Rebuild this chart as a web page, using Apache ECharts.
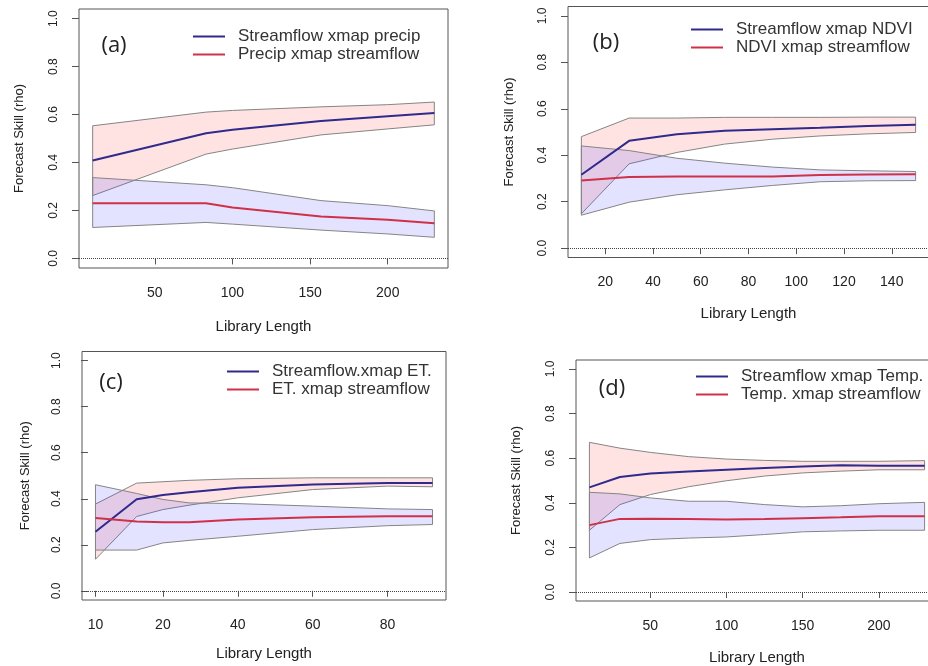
<!DOCTYPE html>
<html lang="en">
<head>
    <meta charset="utf-8" />
    <style>
        html, body { margin: 0; padding: 0; background: #fff; overflow: hidden; }
        .box { width: 928px; height: 666px; }
    </style>
</head>
<body>
    <div class="box"></div>
    <script src="https://cdn.jsdelivr.net/npm/echarts@6/dist/echarts.min.js"></script>
    <script>
// panel (a) Streamflow / precip
var aX      = [10, 83, 100, 157, 200, 230];
var aBlue   = [0.408, 0.522, 0.536, 0.573, 0.593, 0.606];
var aBlueHi = [0.553, 0.610, 0.617, 0.632, 0.641, 0.652];
var aBlueLo = [0.262, 0.435, 0.456, 0.515, 0.540, 0.557];
var aRed    = [0.230, 0.230, 0.212, 0.175, 0.161, 0.147];
var aRedHi  = [0.337, 0.307, 0.295, 0.241, 0.220, 0.198];
var aRedLo  = [0.129, 0.150, 0.143, 0.118, 0.102, 0.088];

// panel (b) Streamflow / NDVI
var bX      = [10, 30, 50, 70, 90, 110, 130, 150];
var bBlue   = [0.316, 0.462, 0.490, 0.505, 0.512, 0.518, 0.526, 0.531];
var bBlueHi = [0.480, 0.560, 0.560, 0.563, 0.563, 0.563, 0.564, 0.564];
var bBlueLo = [0.148, 0.363, 0.412, 0.448, 0.469, 0.483, 0.492, 0.498];
var bRed    = [0.291, 0.306, 0.308, 0.308, 0.309, 0.315, 0.317, 0.318];
var bRedHi  = [0.440, 0.420, 0.387, 0.366, 0.349, 0.337, 0.333, 0.330];
var bRedLo  = [0.142, 0.198, 0.230, 0.251, 0.270, 0.286, 0.290, 0.291];

// panel (c) Streamflow / ET
var cX      = [2, 13, 20, 27, 40, 60, 80, 92];
var cBlue   = [0.257, 0.398, 0.416, 0.428, 0.448, 0.462, 0.469, 0.469];
var cBlueHi = [0.377, 0.468, 0.474, 0.480, 0.487, 0.491, 0.491, 0.491];
var cBlueLo = [0.137, 0.323, 0.353, 0.372, 0.404, 0.440, 0.455, 0.452];
var cRed    = [0.316, 0.301, 0.298, 0.298, 0.310, 0.320, 0.324, 0.324];
var cRedHi  = [0.461, 0.423, 0.397, 0.382, 0.379, 0.368, 0.356, 0.353];
var cRedLo  = [0.177, 0.177, 0.208, 0.219, 0.237, 0.266, 0.283, 0.288];

// panel (d) Streamflow / Temp
var dX      = [10, 30, 50, 75, 100, 125, 150, 175, 200, 230];
var dBlue   = [0.469, 0.516, 0.531, 0.540, 0.548, 0.556, 0.563, 0.568, 0.566, 0.566];
var dBlueHi = [0.671, 0.645, 0.626, 0.607, 0.596, 0.590, 0.586, 0.586, 0.586, 0.589];
var dBlueLo = [0.277, 0.392, 0.437, 0.472, 0.499, 0.520, 0.534, 0.542, 0.548, 0.548];
var dRed    = [0.300, 0.328, 0.329, 0.328, 0.325, 0.327, 0.331, 0.335, 0.340, 0.340];
var dRedHi  = [0.447, 0.440, 0.422, 0.407, 0.407, 0.392, 0.382, 0.387, 0.396, 0.402];
var dRedLo  = [0.153, 0.218, 0.235, 0.242, 0.247, 0.258, 0.270, 0.274, 0.277, 0.277];

// names + tick labels
var panelTags = ['(a)', '(b)', '(c)', '(d)'];
var blueNames = ['Streamflow xmap precip', 'Streamflow xmap NDVI', 'Streamflow.xmap ET.', 'Streamflow xmap Temp.'];
var redNames  = ['Precip xmap streamflow', 'NDVI xmap streamflow', 'ET. xmap streamflow', 'Temp. xmap streamflow'];
var yTicks  = [0, 0.2, 0.4, 0.6, 0.8, 1.0];
var aTicks  = [50, 100, 150, 200];
var bTicks  = [20, 40, 60, 80, 100, 120, 140];
var cTicks  = [2, 20, 40, 60, 80];
var cTickLabels = ['10', '20', '40', '60', '80'];
var dTicks  = [50, 100, 150, 200];

(function(){
    var myChart = echarts.init(document.querySelector('.box'));

    var FONT = 'Liberation Sans';
    var BLUE = '#2f2a8c';
    var RED = '#cf3148';

    // layout of the 4 boxes (px)
    var grids = [
        {left: 79,  top: 9,     width: 369, height: 259},
        {left: 568, top: 6.5,   width: 361, height: 251},
        {left: 82,  top: 351.5, width: 364, height: 248.5},
        {left: 576, top: 360,   width: 362, height: 241}
    ];
    var xRange = [[1.2, 238.8], [4.4, 155.6], [-1.6, 95.6], [1.2, 238.8]];
    var xTickSets = [aTicks, bTicks, cTicks, dTicks];
    var nameGapX = [51, 49, 46, 49];
    var nameGapY = [53, 52, 50, 53];

    var panels = [
        {x: aX, b: aBlue, bh: aBlueHi, bl: aBlueLo, r: aRed, rh: aRedHi, rl: aRedLo},
        {x: bX, b: bBlue, bh: bBlueHi, bl: bBlueLo, r: bRed, rh: bRedHi, rl: bRedLo},
        {x: cX, b: cBlue, bh: cBlueHi, bl: cBlueLo, r: cRed, rh: cRedHi, rl: cRedLo},
        {x: dX, b: dBlue, bh: dBlueHi, bl: dBlueLo, r: dRed, rh: dRedHi, rl: dRedLo}
    ];

    function zip(xs, ys) {
        return xs.map(function(x, i){ return [x, ys[i]]; });
    }

    // confidence band drawn as one polygon (R style), through the axes
    function band(gi, xs, lo, hi, fill) {
        return {
            type: 'custom',
            xAxisIndex: gi, yAxisIndex: gi,
            silent: true,
            z: 1,
            data: xs.map(function(x, i){ return [x, lo[i], hi[i]]; }),
            renderItem: function(params, api) {
                if (params.dataIndex !== 0) return;
                var pts = [];
                for (var i = 0; i < xs.length; i++) pts.push(api.coord([xs[i], hi[i]]));
                for (var j = xs.length - 1; j >= 0; j--) pts.push(api.coord([xs[j], lo[j]]));
                return {
                    type: 'polygon',
                    shape: {points: pts},
                    style: {fill: fill, stroke: '#858585', lineWidth: 1}
                };
            }
        };
    }

    var xAxis = [], yAxis = [], series = [], legend = [], grid = [];

    grids.forEach(function(g, gi){
        grid.push({left: g.left, top: g.top, width: g.width, height: g.height,
            show: true, borderColor: '#555', borderWidth: 1, backgroundColor: 'transparent',
            outerBoundsMode: 'none'});

        xAxis.push({
            type: 'value', gridIndex: gi,
            min: xRange[gi][0], max: xRange[gi][1],
            name: 'Library Length', nameLocation: 'middle', nameGap: nameGapX[gi],
            nameTextStyle: {fontFamily: FONT, fontSize: 15, color: '#222'},
            axisLine: {show: false},
            axisTick: {show: true, length: 6, customValues: xTickSets[gi], lineStyle: {color: '#555'}},
            axisLabel: {
                customValues: xTickSets[gi], margin: 18,
                fontFamily: FONT, fontSize: 14, color: '#222',
                formatter: function(v){
                    if (gi === 2) return cTickLabels[cTicks.indexOf(v)];
                    return String(v);
                }
            },
            splitLine: {show: false}
        });

        yAxis.push({
            type: 'value', gridIndex: gi,
            min: -0.04, max: 1.04,
            name: 'Forecast Skill (rho)', nameLocation: 'middle', nameGap: nameGapY[gi],
            nameTextStyle: {fontFamily: FONT, fontSize: 13, color: '#222'},
            axisLine: {show: false},
            axisTick: {show: true, length: 7, customValues: yTicks, lineStyle: {color: '#555'}},
            axisLabel: {
                customValues: yTicks, rotate: 90, margin: 19,
                fontFamily: FONT, fontSize: 12, color: '#222',
                formatter: function(v){ return v.toFixed(1); }
            },
            splitLine: {show: false}
        });

        var p = panels[gi];
        series.push(band(gi, p.x, p.bl, p.bh, 'rgba(255,60,60,0.14)'));
        series.push(band(gi, p.x, p.rl, p.rh, 'rgba(70,70,255,0.15)'));

        series.push({
            type: 'line', name: blueNames[gi],
            xAxisIndex: gi, yAxisIndex: gi,
            data: zip(p.x, p.b), showSymbol: false, z: 3,
            color: BLUE, lineStyle: {color: BLUE, width: 2},
            markLine: {
                silent: true, symbol: ['none', 'none'],
                label: {show: false},
                lineStyle: {type: 'dotted', color: '#444', width: 1},
                data: [{yAxis: 0}]
            }
        });
        series.push({
            type: 'line', name: redNames[gi],
            xAxisIndex: gi, yAxisIndex: gi,
            data: zip(p.x, p.r), showSymbol: false, z: 3,
            color: RED, lineStyle: {color: RED, width: 2}
        });
    });

    var legendPos = [[193, 28], [691, 21], [227, 363], [696, 368]];
    legendPos.forEach(function(lp, gi){
        legend.push({
            data: [blueNames[gi], redNames[gi]],
            orient: 'vertical', left: lp[0], top: lp[1],
            icon: 'rect', itemWidth: 32, itemHeight: 2, itemGap: 1,
            selectedMode: false, padding: 0,
            textStyle: {fontFamily: FONT, fontSize: 17, color: '#333', lineHeight: 17, padding: [0, 0, 0, 8]}
        });
    });

    var tagPos = [[114, 46], [606, 43], [111, 383], [612, 389]];
    var graphic = tagPos.map(function(tp, i){
        return {
            type: 'text', x: tp[0], y: tp[1], z: 10,
            style: {text: panelTags[i], fontFamily: 'Open Sans', fontSize: 22, fill: '#222',
                    align: 'center', verticalAlign: 'middle'}
        };
    });

    var option = {
        animation: false,
        backgroundColor: '#fff',
        grid: grid,
        xAxis: xAxis,
        yAxis: yAxis,
        legend: legend,
        graphic: graphic,
        series: series
    };

    myChart.setOption(option);
})();
    </script>
</body>
</html>
